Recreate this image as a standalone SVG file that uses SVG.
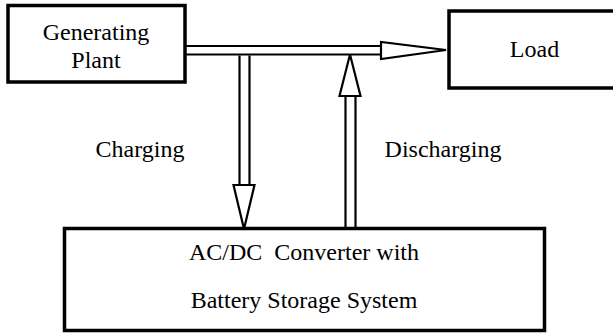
<svg xmlns="http://www.w3.org/2000/svg" width="613" height="335" viewBox="0 0 613 335">
<style>
.box{fill:#fff;stroke:#000;stroke-width:3.5}
.ln{fill:none;stroke:#000;stroke-width:2.2;stroke-linejoin:miter}
.hd{fill:#fff;stroke:#000;stroke-width:2.2;stroke-linejoin:miter}
.t{font-size:24px;fill:#000;text-anchor:middle;white-space:pre}
</style>
<rect width="613" height="335" fill="#fff"/>
<g id="connectors">
<path class="ln" d="M185,46 H381 M185,54.5 H381"/>
<polygon class="hd" points="381,54.5 381,59 446,50 381,42 381,46"/>
<path class="ln" d="M239.5,55.5 V185 M249.5,55.5 V185"/>
<polygon class="hd" points="239.5,185 233.5,185 244,229 254.5,185 249.5,185"/>
<path class="ln" d="M345.5,228 V96 M355.5,228 V96"/>
<polygon class="hd" points="345.5,96 339.5,96 350,54.5 360.5,96 355.5,96"/>
</g>
<g font-family="Liberation Serif, Times New Roman, DejaVu Serif, serif">
<g id="generating-plant">
<rect class="box" x="8" y="5.5" width="177" height="76.5"/>
<text class="t" x="96" y="40">Generating</text>
<text class="t" x="96" y="68">Plant</text>
</g>
<g id="load">
<rect class="box" x="449" y="11" width="200" height="77"/>
<text class="t" x="534.5" y="57">Load</text>
</g>
<g id="converter">
<rect class="box" x="64.5" y="228.5" width="480" height="102"/>
<text class="t" x="304" y="260" xml:space="preserve">AC/DC  Converter with</text>
<text class="t" x="304" y="308">Battery Storage System</text>
</g>
<g id="labels">
<text class="t" x="140" y="157">Charging</text>
<text class="t" x="443" y="157">Discharging</text>
</g>
</g>
</svg>
